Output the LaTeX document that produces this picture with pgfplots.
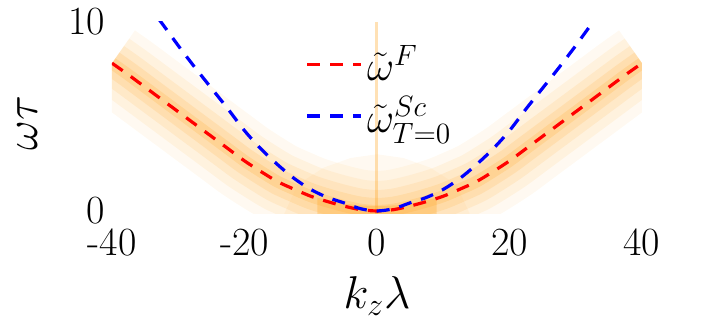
\RequirePackage{fix-cm}
\documentclass[border=0pt]{standalone}
\usepackage{amsmath}
\usepackage{pgfplots}
\usepackage{pgfplotstable}
\pgfplotsset{compat=1.18}
\definecolor{glow}{RGB}{255,155,10}

\pgfplotstableread{
k w
-40 7.82
-37.5 7.2
-35 6.55
-32.5 5.9
-30 5.25
-27.5 4.6
-25 3.95
-22.5 3.3
-20 2.65
-17.5 2.08
-15 1.55
-12.5 1.15
-10 0.78
-7.5 0.5
-5 0.26
-2.5 0.07
0 0
2.5 0.07
5 0.26
7.5 0.5
10 0.78
12.5 1.15
15 1.55
17.5 2.08
20 2.65
22.5 3.3
25 3.95
27.5 4.6
30 5.25
32.5 5.9
35 6.55
37.5 7.2
40 7.82
}\ferm

\pgfplotstableread{
k w
-35 11.1
-32.5 9.95
-30 8.75
-27.5 7.6
-25 6.5
-22.5 5.4
-20 4.25
-17.5 3.28
-15 2.45
-12.5 1.72
-10 1.14
-7.5 0.72
-5 0.43
-2.5 0.12
0 0
2.5 0.12
5 0.43
7.5 0.72
10 1.14
12.5 1.72
15 2.45
17.5 3.28
20 4.25
22.5 5.4
25 6.5
27.5 7.6
30 8.75
32.5 9.95
35 11.1
}\scurve

\begin{document}
\begin{tikzpicture}
\path[use as bounding box] (-56pt,-58.1pt) rectangle (299pt,106.9pt);
\begin{axis}[
  scale only axis, width=265pt, height=95.9pt,
  xmin=-40, xmax=40, ymin=-0.15, ymax=10,
  axis line style={draw=none}, tick style={draw=none},
  xtick={-40,-20,0,20,40}, xticklabels={-40,-20,0,20,40},
  ytick={0,10}, yticklabels={0,10},
  ticklabel style={font=\fontsize{20}{24}\selectfont},
  xticklabel style={yshift=-4pt},
  xlabel={$k_z\lambda$}, ylabel={$\omega\tau$},
  label style={font=\fontsize{23}{27}\selectfont},
  xlabel style={at={(axis description cs:0.5,-0.429)}, anchor=center},
  ylabel style={at={(axis description cs:-0.1585,0.473)}, anchor=center},
  legend style={draw=none, fill=none, at={(axis description cs:0.365,0.90)},
    anchor=north west, font=\fontsize{21}{25}\selectfont,
    row sep=2.5pt, inner sep=0pt},
  legend cell align=left,
  legend image code/.code={\draw[#1] (0pt,0pt) -- (27pt,0pt);},
]
% spectral weight: soft glow around the red dispersion
\addplot[glow, opacity=0.06, draw=none, fill, forget plot] coordinates {
 (-14,-0.15) (-12,1.4) (-8,2.3) (-4,2.8) (0,3.0) (4,2.8) (8,2.3) (12,1.4) (14,-0.15)};
\addplot[glow, opacity=0.06, line width=40pt, smooth, line join=round, forget plot] table {\ferm};
\addplot[glow, opacity=0.08, line width=30pt, smooth, line join=round, forget plot] table {\ferm};
\addplot[glow, opacity=0.10, line width=21pt, smooth, line join=round, forget plot] table {\ferm};
\addplot[glow, opacity=0.13, line width=13pt, smooth, line join=round, forget plot] table {\ferm};
\addplot[glow, opacity=0.16, line width=6pt, smooth, line join=round, forget plot] table {\ferm};
\addplot[glow, opacity=0.25, draw=none, fill, forget plot] coordinates {
 (-9,-0.15) (-9,0.7) (-6,0.45) (-3,0.3) (0,0.25) (3,0.3) (6,0.45) (9,0.7) (9,-0.15)};
\addplot[glow, opacity=0.3, line width=1.5pt, forget plot] coordinates {(0,-0.15) (0,10)};
% dispersion curves
\addplot[red, line width=1.6pt, dash pattern=on 6.5pt off 5pt, smooth] table {\ferm};
\addlegendentry{$\tilde{\omega}^F$}
\addplot[blue, line width=1.6pt, dash pattern=on 6.5pt off 5pt, smooth] table {\scurve};
\addlegendentry{$\tilde{\omega}^{Sc}_{T=0}$}
\end{axis}
\end{tikzpicture}
\end{document}
